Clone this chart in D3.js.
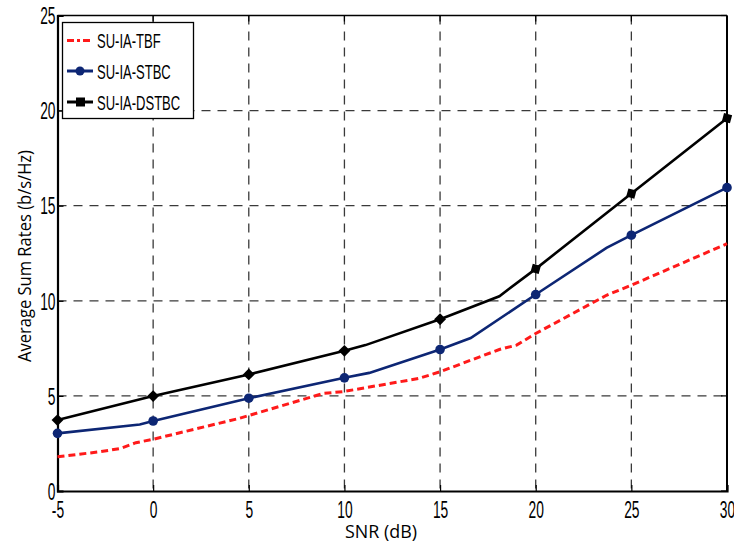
<!DOCTYPE html>
<html>
<head>
<meta charset="utf-8">
<script src="https://cdn.jsdelivr.net/npm/d3@7"></script>
<style>
  body { margin: 0; background: #fff; }
  svg { display: block; }
  .tick text { font-family: "Liberation Sans", Arial, sans-serif; }
</style>
</head>
<body>
<svg id="chart" width="734" height="546"></svg>
<script>
// SNR sweep (dB) and average sum rates (b/s/Hz) for each scheme
const tbfSnr   = [-5, -2.8, -1.7, -0.9, 0, 4.5, 8.9, 9.9, 13.9, 15, 18.1, 19, 20, 23.7, 25, 30];
const tbfRate  = [1.80, 2.06, 2.24, 2.54, 2.72, 3.82, 5.13, 5.22, 5.92, 6.27, 7.44, 7.67, 8.28, 10.29, 10.82, 13.0];

const stbcSnr  = [-5, -0.7, 0, 5, 10, 11.3, 15, 16.6, 20, 23.7, 25, 30];
const stbcRate = [3.03, 3.50, 3.68, 4.88, 5.95, 6.21, 7.44, 8.04, 10.33, 12.78, 13.45, 15.95];

const dstbcSnr  = [-5, 0, 5, 10, 11.1, 15, 18.1, 20, 25, 30];
const dstbcRate = [3.73, 4.99, 6.13, 7.37, 7.67, 9.03, 10.24, 11.68, 15.64, 19.6];

const markerSnr = [-5, 0, 5, 10, 15, 20, 25, 30];
const xTicks = [-5, 0, 5, 10, 15, 20, 25, 30];
const yTicks = [0, 5, 10, 15, 20, 25];
const seriesNames = ["SU-IA-TBF", "SU-IA-STBC", "SU-IA-DSTBC"];

const svg = d3.select("#chart");
const pL = 57.5, pR = 727, pT = 15.5, pB = 491;
const squeeze = 0.6; // horizontal compression of the narrow label face

const x = d3.scaleLinear().domain([-5, 30]).range([pL, pR]);
const y = d3.scaleLinear().domain([0, 25]).range([pB, pT]);

// dashed grid
const grid = svg.append("g");
grid.selectAll(".gx").data(xTicks.slice(1, -1)).join("line")
  .attr("x1", d => x(d)).attr("x2", d => x(d))
  .attr("y1", pT).attr("y2", pB)
  .attr("stroke", "#3a3a3a").attr("stroke-width", 1.3).attr("stroke-dasharray", "9,7");
grid.selectAll(".gy").data(yTicks.slice(1, -1)).join("line")
  .attr("x1", pL).attr("x2", pR)
  .attr("y1", d => y(d)).attr("y2", d => y(d))
  .attr("stroke", "#3a3a3a").attr("stroke-width", 1.3).attr("stroke-dasharray", "9,7");

// axes
const fmt = d => String(d);
const xAxis = svg.append("g").attr("transform", `translate(0,${pB})`)
  .call(d3.axisBottom(x).tickValues(xTicks).tickSize(-6).tickFormat(fmt));
const yAxis = svg.append("g").attr("transform", `translate(${pL},0)`)
  .call(d3.axisLeft(y).tickValues(yTicks).tickSize(-6).tickFormat(fmt));
[xAxis, yAxis].forEach(a => {
  a.select(".domain").attr("stroke", "#000").attr("stroke-width", 2.2);
  a.selectAll(".tick line").attr("stroke", "#000").attr("stroke-width", 1.2);
  a.selectAll(".tick text").attr("fill", "#000").style("font-size", "23px")
    .attr("transform", `scale(${squeeze},1)`);
});
xAxis.selectAll(".tick text").attr("y", 27.5).attr("dy", 0);
yAxis.selectAll(".tick text").attr("x", -2 / squeeze).attr("dy", "0.36em");

// top and right frame with inward ticks
svg.append("line").attr("x1", pL).attr("x2", pR).attr("y1", pT).attr("y2", pT)
  .attr("stroke", "#000").attr("stroke-width", 1.5);
svg.append("line").attr("x1", pR).attr("x2", pR).attr("y1", pT).attr("y2", pB)
  .attr("stroke", "#000").attr("stroke-width", 2);
svg.append("g").selectAll("line").data(yTicks).join("line")
  .attr("x1", pR - 6).attr("x2", pR).attr("y1", d => y(d)).attr("y2", d => y(d))
  .attr("stroke", "#000").attr("stroke-width", 1.2);
svg.append("g").selectAll("line").data(xTicks).join("line")
  .attr("x1", d => x(d)).attr("x2", d => x(d)).attr("y1", pT).attr("y2", pT + 6)
  .attr("stroke", "#000").attr("stroke-width", 1.2);

const line = d3.line().x(d => x(d[0])).y(d => y(d[1]));
const zip = (a, b) => a.map((v, i) => [v, b[i]]);

const tbf = zip(tbfSnr, tbfRate);
const stbc = zip(stbcSnr, stbcRate);
const dstbc = zip(dstbcSnr, dstbcRate);

svg.append("path").datum(tbf).attr("d", line)
  .attr("fill", "none").attr("stroke", "#ff1a1a").attr("stroke-width", 3)
  .attr("stroke-dasharray", "7,4");
svg.append("path").datum(stbc).attr("d", line)
  .attr("fill", "none").attr("stroke", "#0d2674").attr("stroke-width", 2.6);
svg.append("path").datum(dstbc).attr("d", line)
  .attr("fill", "none").attr("stroke", "#000").attr("stroke-width", 2.6);

const atMarkers = pts => pts.filter(p => markerSnr.includes(p[0]));

svg.append("g").selectAll("circle").data(atMarkers(stbc)).join("circle")
  .attr("cx", d => x(d[0])).attr("cy", d => y(d[1])).attr("r", 4.8)
  .attr("fill", "#0d2674");
const diamond = d3.symbol().type(d3.symbolSquare).size(70);
svg.append("g").selectAll("path").data(atMarkers(dstbc)).join("path")
  .attr("d", diamond)
  .attr("transform", d => `translate(${x(d[0])},${y(d[1])}) rotate(${d[0] < 20 ? 45 : 15})`)
  .attr("fill", "#000");

// legend
const lg = svg.append("g");
lg.append("rect").attr("x", 62.5).attr("y", 22.5).attr("width", 131).attr("height", 96)
  .attr("fill", "#fff").attr("stroke", "#000").attr("stroke-width", 1.3);
const rowsY = [40.5, 71, 102];
const colors = ["#ff1a1a", "#0d2674", "#000"];
lg.selectAll(".ll").data(rowsY).join("line")
  .attr("x1", 67).attr("x2", 93).attr("y1", d => d).attr("y2", d => d)
  .attr("stroke", (d, i) => colors[i]).attr("stroke-width", 3)
  .attr("stroke-dasharray", (d, i) => i === 0 ? "7,3,3,3" : null);
lg.append("circle").attr("cx", 80).attr("cy", rowsY[1]).attr("r", 4.5).attr("fill", colors[1]);
lg.append("rect").attr("x", 76).attr("y", rowsY[2] - 4.5).attr("width", 9).attr("height", 9).attr("fill", "#000");
lg.selectAll("text").data(seriesNames).join("text")
  .attr("transform", (d, i) => `translate(97,${rowsY[i] + 7.5}) scale(0.62,1)`)
  .attr("font-family", "'Liberation Sans', Arial, sans-serif")
  .attr("font-size", 21).attr("fill", "#000")
  .text(d => d);

// axis titles
svg.append("text").attr("x", 381).attr("y", 538).attr("text-anchor", "middle")
  .attr("font-family", "'Open Sans', Lato, sans-serif").attr("font-size", 18).attr("fill", "#000")
  .attr("textLength", 72).attr("lengthAdjust", "spacingAndGlyphs")
  .text("SNR (dB)");
svg.append("text").attr("transform", "translate(31,256) rotate(-90)").attr("text-anchor", "middle")
  .attr("font-family", "'Open Sans', Lato, sans-serif").attr("font-size", 18).attr("fill", "#000")
  .attr("textLength", 212).attr("lengthAdjust", "spacingAndGlyphs")
  .text("Average Sum Rates (b/s/Hz)");
</script>
</body>
</html>
